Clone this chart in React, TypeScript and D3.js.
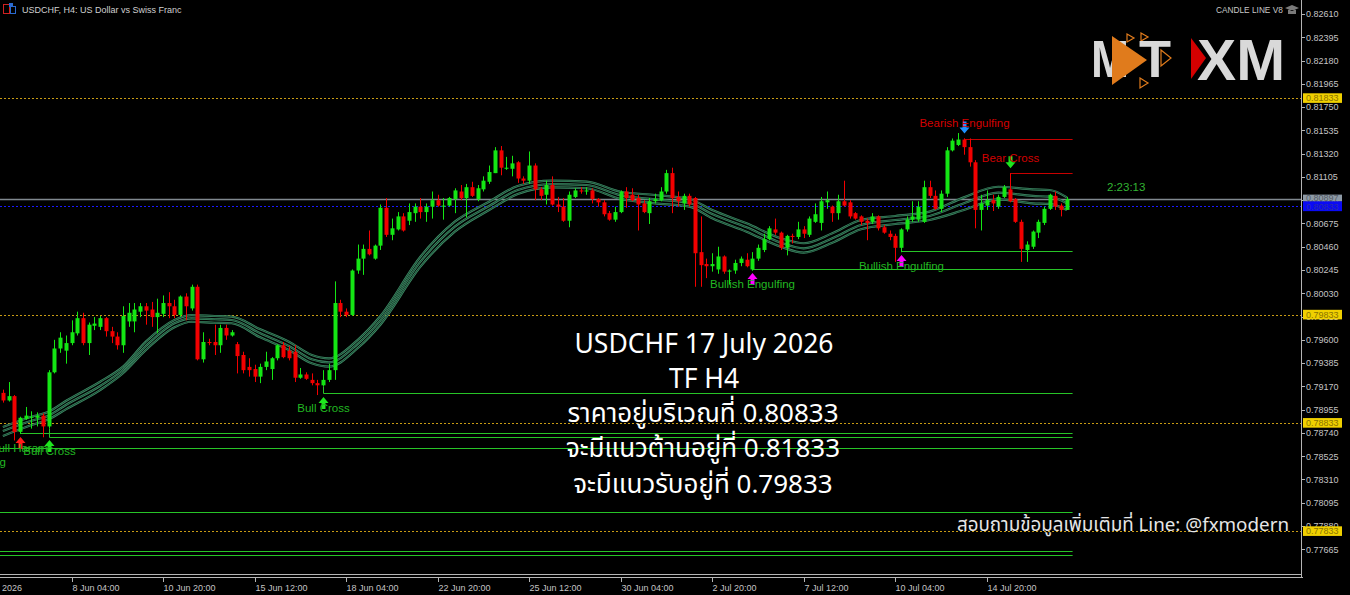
import * as d3 from 'd3';

// H4 bars [open, high, low, close], first one is 4 Jun 2026 04:00 (bar index -12, 8 Jun 04:00 = 0)
const firstBar = -12;
const bars: number[][] = [
  [0.7911, 0.7914, 0.7902, 0.7904], [0.7904, 0.7921, 0.7903, 0.7908], [0.7908, 0.7909, 0.7867, 0.7875],
  [0.7875, 0.7889, 0.7873, 0.7888], [0.7887, 0.7898, 0.7886, 0.7890], [0.7889, 0.7894, 0.7878, 0.7889],
  [0.7888, 0.7893, 0.7880, 0.7890], [0.7890, 0.7892, 0.7870, 0.7880], [0.7880, 0.7932, 0.7878, 0.7930],
  [0.7930, 0.7960, 0.7929, 0.7952], [0.7952, 0.7967, 0.7948, 0.7962], [0.7950, 0.7964, 0.7938, 0.7957],
  // 8 Jun
  [0.7957, 0.7978, 0.7955, 0.7967], [0.7966, 0.7986, 0.7964, 0.7980], [0.7980, 0.7985, 0.7955, 0.7957],
  [0.7957, 0.7976, 0.7946, 0.7974], [0.7973, 0.7981, 0.7969, 0.7975], [0.7972, 0.7982, 0.7969, 0.7980],
  [0.7980, 0.7981, 0.7963, 0.7968], [0.7968, 0.7972, 0.7957, 0.7963], [0.7963, 0.7967, 0.7951, 0.7955],
  [0.7955, 0.7991, 0.7948, 0.7982], [0.7977, 0.7994, 0.7972, 0.7985], [0.7977, 0.7994, 0.7967, 0.7988],
  [0.7986, 0.7994, 0.7981, 0.7991], [0.7991, 0.7994, 0.7974, 0.7987], [0.7988, 0.7995, 0.7972, 0.7981],
  [0.7981, 0.7998, 0.7966, 0.7985], [0.7984, 0.8001, 0.7981, 0.7994], [0.7994, 0.8004, 0.7980, 0.7991],
  [0.7991, 0.7997, 0.7980, 0.7983], [0.7983, 0.8001, 0.7981, 0.8000], [0.8000, 0.8003, 0.7978, 0.7991],
  [0.7989, 0.8011, 0.7987, 0.8009], [0.8009, 0.8011, 0.7941, 0.7942], [0.7942, 0.7967, 0.7939, 0.7958],
  [0.7958, 0.7961, 0.7955, 0.7957], [0.7958, 0.7974, 0.7946, 0.7955], [0.7955, 0.7974, 0.7948, 0.7971],
  [0.7971, 0.7974, 0.7960, 0.7964], [0.7964, 0.7969, 0.7963, 0.7967],
  // 15 Jun
  [0.7956, 0.7958, 0.7929, 0.7945], [0.7946, 0.7949, 0.7929, 0.7932], [0.7935, 0.7943, 0.7926, 0.7932],
  [0.7933, 0.7937, 0.7921, 0.7926], [0.7926, 0.7938, 0.7920, 0.7935], [0.7935, 0.7949, 0.7932, 0.7940],
  [0.7933, 0.7944, 0.7923, 0.7943], [0.7943, 0.7956, 0.7941, 0.7955], [0.7955, 0.7958, 0.7943, 0.7944],
  [0.7950, 0.7954, 0.7941, 0.7943], [0.7949, 0.7955, 0.7921, 0.7925], [0.7925, 0.7934, 0.7924, 0.7928],
  [0.7928, 0.7930, 0.7923, 0.7924], [0.7923, 0.7929, 0.7918, 0.7920], [0.7920, 0.7923, 0.7909, 0.7918],
  [0.7918, 0.7932, 0.7917, 0.7923], [0.7923, 0.7938, 0.7921, 0.7932], [0.7932, 0.8014, 0.7923, 0.7994],
  [0.7994, 0.7997, 0.7981, 0.7986], [0.7986, 0.7989, 0.7981, 0.7983], [0.7983, 0.8025, 0.7982, 0.8024],
  [0.8024, 0.8048, 0.8021, 0.8035], [0.8035, 0.8048, 0.8020, 0.8044], [0.8044, 0.8061, 0.8038, 0.8039],
  [0.8035, 0.8048, 0.8034, 0.8047], [0.8047, 0.8085, 0.8043, 0.8082], [0.8082, 0.8091, 0.8055, 0.8057],
  [0.8057, 0.8072, 0.8052, 0.8063], [0.8062, 0.8078, 0.8061, 0.8074], [0.8074, 0.8077, 0.8060, 0.8061],
  // 22 Jun
  [0.8070, 0.8086, 0.8066, 0.8078], [0.8077, 0.8086, 0.8069, 0.8083], [0.8083, 0.8091, 0.8072, 0.8078],
  [0.8078, 0.8086, 0.8069, 0.8083], [0.8083, 0.8097, 0.8072, 0.8089], [0.8089, 0.8094, 0.8083, 0.8084],
  [0.8083, 0.8091, 0.8071, 0.8084], [0.8084, 0.8092, 0.8083, 0.8091], [0.8090, 0.8100, 0.8077, 0.8098],
  [0.8097, 0.8103, 0.8089, 0.8091], [0.8091, 0.8104, 0.8073, 0.8101], [0.8101, 0.8106, 0.8092, 0.8093],
  [0.8090, 0.8103, 0.8088, 0.8100], [0.8099, 0.8111, 0.8097, 0.8107], [0.8106, 0.8121, 0.8104, 0.8115],
  [0.8114, 0.8138, 0.8114, 0.8135], [0.8135, 0.8139, 0.8112, 0.8119], [0.8118, 0.8129, 0.8117, 0.8119],
  [0.8118, 0.8130, 0.8111, 0.8123], [0.8124, 0.8125, 0.8105, 0.8109], [0.8109, 0.8111, 0.8104, 0.8107],
  [0.8107, 0.8134, 0.8104, 0.8121], [0.8121, 0.8123, 0.8089, 0.8099], [0.8099, 0.8101, 0.8089, 0.8093],
  [0.8094, 0.8107, 0.8085, 0.8103], [0.8103, 0.8111, 0.8084, 0.8085], [0.8085, 0.8092, 0.8078, 0.8083],
  [0.8083, 0.8091, 0.8069, 0.8070], [0.8070, 0.8097, 0.8064, 0.8094], [0.8092, 0.8100, 0.8091, 0.8098],
  // 29 Jun
  [0.8098, 0.8101, 0.8095, 0.8097], [0.8097, 0.8101, 0.8094, 0.8098], [0.8098, 0.8100, 0.8086, 0.8090],
  [0.8090, 0.8091, 0.8083, 0.8087], [0.8087, 0.8089, 0.8074, 0.8076], [0.8077, 0.8079, 0.8070, 0.8071],
  [0.8071, 0.8083, 0.8069, 0.8078], [0.8078, 0.8098, 0.8077, 0.8097], [0.8097, 0.8101, 0.8082, 0.8091],
  [0.8094, 0.8100, 0.8088, 0.8089], [0.8091, 0.8094, 0.8061, 0.8085], [0.8086, 0.8089, 0.8077, 0.8078],
  [0.8077, 0.8091, 0.8067, 0.8088], [0.8088, 0.8095, 0.8086, 0.8090], [0.8089, 0.8101, 0.8088, 0.8097],
  [0.8097, 0.8117, 0.8095, 0.8114], [0.8114, 0.8119, 0.8077, 0.8091], [0.8092, 0.8097, 0.8083, 0.8088],
  [0.8086, 0.8095, 0.8080, 0.8093], [0.8093, 0.8095, 0.8083, 0.8085], [0.8091, 0.8092, 0.8009, 0.8040],
  [0.8041, 0.8074, 0.8009, 0.8029], [0.8030, 0.8035, 0.8017, 0.8028], [0.8028, 0.8040, 0.8023, 0.8030],
  [0.8025, 0.8046, 0.8021, 0.8037], [0.8037, 0.8038, 0.8021, 0.8023], [0.8023, 0.8025, 0.8011, 0.8024],
  [0.8024, 0.8034, 0.8021, 0.8031], [0.8031, 0.8037, 0.8028, 0.8035], [0.8034, 0.8040, 0.8027, 0.8028],
  // 6 Jul
  [0.8025, 0.8041, 0.8024, 0.8035], [0.8035, 0.8048, 0.8033, 0.8045], [0.8043, 0.8058, 0.8041, 0.8053],
  [0.8053, 0.8065, 0.8052, 0.8063], [0.8062, 0.8072, 0.8057, 0.8059], [0.8059, 0.8060, 0.8043, 0.8045],
  [0.8045, 0.8057, 0.8038, 0.8056], [0.8056, 0.8058, 0.8049, 0.8055], [0.8055, 0.8069, 0.8053, 0.8062],
  [0.8062, 0.8065, 0.8054, 0.8058], [0.8057, 0.8074, 0.8055, 0.8072], [0.8069, 0.8086, 0.8068, 0.8076],
  [0.8068, 0.8092, 0.8061, 0.8088], [0.8087, 0.8097, 0.8081, 0.8089], [0.8083, 0.8084, 0.8069, 0.8077],
  [0.8077, 0.8094, 0.8071, 0.8088], [0.8088, 0.8107, 0.8083, 0.8084], [0.8087, 0.8089, 0.8072, 0.8074],
  [0.8077, 0.8078, 0.8071, 0.8072], [0.8074, 0.8075, 0.8066, 0.8069], [0.8070, 0.8072, 0.8052, 0.8068],
  [0.8069, 0.8077, 0.8067, 0.8074], [0.8074, 0.8075, 0.8061, 0.8063], [0.8064, 0.8066, 0.8058, 0.8059],
  [0.8058, 0.8061, 0.8052, 0.8055], [0.8056, 0.8058, 0.8032, 0.8045], [0.8045, 0.8063, 0.8041, 0.8062],
  [0.8062, 0.8074, 0.8060, 0.8071], [0.8071, 0.8088, 0.8069, 0.8074], [0.8071, 0.8088, 0.8069, 0.8083],
  // 13 Jul
  [0.8069, 0.8107, 0.8068, 0.8101], [0.8101, 0.8107, 0.8091, 0.8093], [0.8093, 0.8098, 0.8080, 0.8081],
  [0.8081, 0.8098, 0.8078, 0.8095], [0.8095, 0.8138, 0.8092, 0.8135], [0.8135, 0.8146, 0.8134, 0.8144],
  [0.8140, 0.8151, 0.8139, 0.8145], [0.8145, 0.8146, 0.8131, 0.8138], [0.8138, 0.8146, 0.8120, 0.8124],
  [0.8124, 0.8126, 0.8063, 0.8080], [0.8080, 0.8094, 0.8061, 0.8086], [0.8084, 0.8098, 0.8080, 0.8089],
  [0.8089, 0.8094, 0.8079, 0.8086], [0.8083, 0.8094, 0.8081, 0.8092], [0.8092, 0.8103, 0.8091, 0.8101],
  [0.8099, 0.8114, 0.8087, 0.8088], [0.8090, 0.8091, 0.8068, 0.8069], [0.8069, 0.8071, 0.8032, 0.8044],
  [0.8043, 0.8051, 0.8032, 0.8048], [0.8046, 0.8061, 0.8044, 0.8060], [0.8059, 0.8071, 0.8054, 0.8069],
  [0.8068, 0.8083, 0.8066, 0.8081], [0.8081, 0.8095, 0.8080, 0.8094], [0.8093, 0.8097, 0.8080, 0.8083],
  [0.8084, 0.8086, 0.8074, 0.8080], [0.8080, 0.8092, 0.8080, 0.8090],
];

// candle line ribbon (upper / middle / lower), read at these bars
const maBars = [-12, -7, -4, -1, 5, 9, 13, 18, 21, 25, 28, 33, 38, 42, 45, 50, 54, 61, 67, 73, 78, 84, 90, 96, 102, 108, 112, 118, 124, 128, 133, 138, 144, 150, 156, 162, 168, 171, 174];
const maUpper = [0.78795, 0.78890, 0.78936, 0.79035, 0.79213, 0.79352, 0.79583, 0.79783, 0.79829, 0.79820, 0.79814, 0.79697, 0.79583, 0.79460, 0.79429, 0.79598, 0.79820, 0.80368, 0.80691, 0.80876, 0.81021, 0.81070, 0.81061, 0.80968, 0.80938, 0.80901, 0.80799, 0.80676, 0.80538, 0.80492, 0.80584, 0.80707, 0.80744, 0.80784, 0.80916, 0.81014, 0.80990, 0.80984, 0.80916];
const maMiddle = [0.78758, 0.78853, 0.78899, 0.78998, 0.79174, 0.79321, 0.79543, 0.79753, 0.79799, 0.79790, 0.79783, 0.79660, 0.79543, 0.79420, 0.79392, 0.79561, 0.79780, 0.80322, 0.80645, 0.80836, 0.80984, 0.81039, 0.81030, 0.80935, 0.80898, 0.80864, 0.80762, 0.80639, 0.80497, 0.80445, 0.80538, 0.80661, 0.80707, 0.80744, 0.80861, 0.80959, 0.80929, 0.80922, 0.80861];
const maLower = [0.78712, 0.78813, 0.78866, 0.78958, 0.79136, 0.79291, 0.79506, 0.79716, 0.79767, 0.79758, 0.79753, 0.79623, 0.79506, 0.79383, 0.79352, 0.79522, 0.79740, 0.80276, 0.80599, 0.80799, 0.80947, 0.81009, 0.81000, 0.80901, 0.80861, 0.80831, 0.80723, 0.80599, 0.80460, 0.80405, 0.80497, 0.80621, 0.80670, 0.80707, 0.80799, 0.80898, 0.80861, 0.80855, 0.80799];

const timeTickBars = [0, 16, 32, 48, 64, 80, 96, 112, 128, 144, 160];
const timeTickLabels = ['8 Jun 04:00', '10 Jun 20:00', '15 Jun 12:00', '18 Jun 04:00', '22 Jun 20:00', '25 Jun 12:00', '30 Jun 04:00', '2 Jul 20:00', '7 Jul 12:00', '10 Jul 04:00', '14 Jul 20:00'];
const firstDateLabel = '4 Jun 2026';

const priceTicks = [0.82610, 0.82395, 0.82180, 0.81965, 0.81750, 0.81535, 0.81320, 0.81105, 0.80890, 0.80675, 0.80460, 0.80245, 0.80030, 0.79815, 0.79600, 0.79385, 0.79170, 0.78955, 0.78740, 0.78525, 0.78310, 0.78095, 0.77880, 0.77665];

const goldLevels = [0.81833, 0.79833, 0.78833, 0.77833];
const currentPrice = 0.80833;
const resistance = 0.81833;
const support = 0.79833;
const bidPrice = 0.80897;

// signal lines from the indicator: start bar, price, kind
const levelStart = [-12, -12, -12, -12, -9, -4, 44, 119, 145, 156, 164];
const levelPrice = [0.77613, 0.77650, 0.78012, 0.78603, 0.78737, 0.78705, 0.79112, 0.80254, 0.80418, 0.81452, 0.81138];
const levelKind = ['bull', 'bull', 'bull', 'bull', 'bull', 'bull', 'bull', 'bull', 'bull', 'bear', 'bear'];

// arrows: bar, tip price, direction, colour, label
const signalBars = [-9, -4, 44, 119, 145, 156, 164];
const signalTip = [0.78702, 0.78675, 0.79071, 0.80217, 0.80384, 0.81507, 0.81184];
const signalDir = ['up', 'up', 'up', 'up', 'up', 'down', 'down'];
const signalColor = ['#ff1a1a', '#1ee61e', '#1ee61e', '#ff00ff', '#ff00ff', '#1e90ff', '#1ee61e'];
const signalLabel = ['Bull Harami', 'Bull Cross', 'Bull Cross', 'Bullish Engulfing', 'Bullish Engulfing', 'Bearish Engulfing', 'Bear Cross'];

const countdown = '2:23:13';

const PLOT_W = 1302;
const PLOT_H = 574;
const BULL = '#14e614';
const BEAR = '#f20000';
const axisFont = 'Liberation Sans, Arial, sans-serif';

function arrowPath(cx: number, tip: number, dir: string) {
  const s = dir === 'up' ? 1 : -1;
  return `M${cx},${tip} L${cx + 5},${tip + 6 * s} L${cx + 2},${tip + 6 * s} L${cx + 2},${tip + 12 * s} L${cx - 2},${tip + 12 * s} L${cx - 2},${tip + 6 * s} L${cx - 5},${tip + 6 * s} Z`;
}

export default function App() {
  const x = d3.scaleLinear().domain([-12.5, 215.1]).range([0, PLOT_W]);
  const y = d3.scaleLinear().domain([0.77437, 0.82739]).range([PLOT_H, 0]);

  const line = (vals: number[]) =>
    d3.line<number>()
      .x((_, k) => x(maBars[k]))
      .y(d => y(d))
      .curve(d3.curveMonotoneX)(vals) || '';

  const endX = x(175);

  return (
    <div style={{ position: 'fixed', left: 0, top: 0, width: 1350, height: 595, background: '#000' }}>
      <svg width={1350} height={595} style={{ display: 'block' }}>
        <rect width={1350} height={595} fill="#000" />
        <defs>
          <clipPath id="plot"><rect x={0} y={0} width={PLOT_W} height={PLOT_H} /></clipPath>
        </defs>

        <g clipPath="url(#plot)">
          {/* dotted key levels */}
          {goldLevels.map(p => (
            <line key={p} x1={0} x2={PLOT_W} y1={Math.round(y(p)) + 0.5} y2={Math.round(y(p)) + 0.5}
              stroke="#c89b14" strokeDasharray="2,2" />
          ))}
          <line x1={0} x2={PLOT_W} y1={Math.round(y(bidPrice)) + 0.5} y2={Math.round(y(bidPrice)) + 0.5} stroke="#80888f" strokeWidth={1.6} />
          <line x1={0} x2={PLOT_W} y1={Math.round(y(currentPrice)) + 0.5} y2={Math.round(y(currentPrice)) + 0.5}
            stroke="#1a1aff" strokeDasharray="2,2" />

          {/* indicator level lines */}
          {levelStart.map((b, k) => {
            const col = levelKind[k] === 'bull' ? '#27c427' : '#c80000';
            const ly = Math.round(y(levelPrice[k])) + 0.5;
            const sx = b <= -12 ? 0 : Math.round(x(b)) + 0.5;
            const bar = bars[b - firstBar];
            const anchor = b <= -12 ? ly : y(levelKind[k] === 'bull' ? bar[2] : bar[1]);
            return (
              <g key={k}>
                <line x1={sx} x2={endX} y1={ly} y2={ly} stroke={col} />
                {b > -12 && <line x1={sx} x2={sx} y1={anchor} y2={ly} stroke={col} />}
              </g>
            );
          })}

          {/* ribbon: each line drawn with light edges and a dark core */}
          {[maUpper, maMiddle, maLower].map((vals, k) => (
            <g key={k}>
              <path d={line(vals)} fill="none" stroke="#3f8f68" strokeWidth={2.2} />
              <path d={line(vals)} fill="none" stroke="#0f2e20" strokeWidth={0.7} />
            </g>
          ))}

          {/* candles */}
          {bars.map((b, k) => {
            const [o, h, l, c] = b;
            const cx = Math.round(x(firstBar + k));
            const col = c >= o ? BULL : BEAR;
            const top = y(Math.max(o, c));
            const bot = y(Math.min(o, c));
            return (
              <g key={k}>
                <line x1={cx + 0.5} x2={cx + 0.5} y1={y(h)} y2={y(l)} stroke={col} />
                <rect x={cx - 1.5} y={top} width={4} height={Math.max(1, bot - top)} fill={col} />
              </g>
            );
          })}

          {/* signal arrows and labels */}
          {signalBars.map((b, k) => {
            const cx = Math.round(x(b)) + 0.5;
            const tip = y(signalTip[k]);
            const up = signalDir[k] === 'up';
            const labelCol = up ? '#22b822' : '#d40000';
            const ly = up ? tip + 15 : tip - 6;
            return (
              <g key={k}>
                <path d={arrowPath(cx, tip, signalDir[k])} fill={signalColor[k]} />
                <text x={cx} y={ly} textAnchor="middle" fill={labelCol} fontFamily={axisFont} fontSize={11.5}>{signalLabel[k]}</text>
              </g>
            );
          })}
          <text x={6} y={466} textAnchor="end" fill="#22b822" fontFamily={axisFont} fontSize={11.5}>Bullish Engulfing</text>

          <text x={1107} y={191} fill="#33b533" fontFamily={axisFont} fontSize={11.5}>{countdown}</text>
        </g>

        {/* frame */}
        <line x1={0} x2={PLOT_W} y1={574.5} y2={574.5} stroke="#b4b4b4" />
        <line x1={0} x2={PLOT_W + 1} y1={577.5} y2={577.5} stroke="#b4b4b4" />
        <line x1={PLOT_W - 0.5} x2={PLOT_W - 0.5} y1={0} y2={578} stroke="#b4b4b4" />

        {/* price axis */}
        {priceTicks.map(p => (
          <g key={p}>
            <line x1={PLOT_W} x2={PLOT_W + 3} y1={Math.round(y(p)) + 0.5} y2={Math.round(y(p)) + 0.5} stroke="#b4b4b4" />
            <text x={PLOT_W + 4} y={y(p) + 3.3} fill="#c4c4c4" fontFamily={axisFont} fontSize={9}>{p.toFixed(5)}</text>
          </g>
        ))}
        {goldLevels.map(p => (
          <g key={p}>
            <rect x={PLOT_W + 1} y={y(p) - 4.8} width={39} height={9.6} fill="#f0d000" />
            <text x={PLOT_W + 4} y={y(p) + 3.3} fill="#8a7400" fontFamily={axisFont} fontSize={9}>{p.toFixed(5)}</text>
          </g>
        ))}
        <rect x={PLOT_W + 1} y={y(bidPrice) - 4.8} width={39} height={7} fill="#8e9aa6" />
        <text x={PLOT_W + 4} y={y(bidPrice) + 2} fill="#555d66" fontFamily={axisFont} fontSize={9}>{bidPrice.toFixed(5)}</text>
        <rect x={PLOT_W + 1} y={y(currentPrice) - 5} width={39} height={9.8} fill="#0a0af5" />
        <text x={PLOT_W + 4} y={y(currentPrice) + 3.3} fill="#2a2aa8" fontFamily={axisFont} fontSize={9}>{currentPrice.toFixed(5)}</text>

        {/* time axis */}
        <text x={22} y={591} textAnchor="end" fill="#c4c4c4" fontFamily={axisFont} fontSize={9}>{firstDateLabel}</text>
        {timeTickBars.map((b, k) => {
          const tx = Math.round(x(b)) + 0.5;
          return (
            <g key={b}>
              <line x1={tx} x2={tx} y1={578} y2={582} stroke="#b4b4b4" />
              <text x={tx} y={591} fill="#c4c4c4" fontFamily={axisFont} fontSize={9}>{timeTickLabels[k]}</text>
            </g>
          );
        })}

        {/* header */}
        <rect x={3.5} y={4.5} width={6} height={9} fill="none" stroke="#d02020" />
        <rect x={10.5} y={6.5} width={5} height={7} fill="none" stroke="#2a6ad0" />
        <rect x={9} y={3} width={4} height={4} fill="#2a6ad0" />
        <text x={22} y={13} fill="#d0d0d0" fontFamily={axisFont} fontSize={9}>USDCHF, H4:  US Dollar vs Swiss Franc</text>
        <text x={1216} y={13} fill="#c8c8c8" fontFamily={axisFont} fontSize={8.3}>CANDLE LINE V8</text>
        <path d="M1285,8 L1292,5 L1299,8 L1292,11 Z M1288,10 L1288,14 L1296,14 L1296,10" fill="#7a7a7a" />

        {/* logos */}
        <text x={1091} y={77} fill="#d9d9d9" fontFamily="Liberation Sans, Arial, sans-serif" fontWeight="bold" fontSize={51}
          textLength={38} lengthAdjust="spacingAndGlyphs">M</text>
        <path d="M1112,36 L1147,60 L1112,85 Z" fill="#e07b1c" />
        <path d="M1127,34 L1134,38 L1127,42 Z M1141,33 L1148,37 L1141,41 Z M1161,50 L1171,58 L1161,66 Z M1140,78 L1148,83 L1140,88 Z"
          fill="none" stroke="#e07b1c" strokeWidth={1.2} />
        <text x={1139} y={77} fill="#d9d9d9" fontFamily="Liberation Sans, Arial, sans-serif" fontWeight="bold" fontSize={51}
          textLength={32} lengthAdjust="spacingAndGlyphs">T</text>
        <path d="M1191,38 L1206,58 L1191,79 Z" fill="#d40000" />
        <text x={1197} y={80} fill="#d9d9d9" fontFamily="Liberation Sans, Arial, sans-serif" fontWeight="bold" fontSize={58}
          textLength={88} lengthAdjust="spacingAndGlyphs">XM</text>

        {/* overlay text */}
        <g fontFamily="Noto Sans, Noto Sans Thai, Loma, Garuda, sans-serif" fill="#ffffff" textAnchor="middle">
          <text x={704} y={353} fontSize={26.5}>USDCHF 17 July 2026</text>
          <text x={704} y={388} fontSize={26.5}>TF H4</text>
          <text x={703} y={422} fontSize={26}>{`ราคาอยู่บริเวณที่ ${currentPrice.toFixed(5)}`}</text>
          <text x={703} y={457} fontSize={26}>{`จะมีแนวต้านอยู่ที่ ${resistance.toFixed(5)}`}</text>
          <text x={703} y={493} fontSize={26}>{`จะมีแนวรับอยู่ที่ ${support.toFixed(5)}`}</text>
        </g>
        <text x={1289} y={531} textAnchor="end" fill="#e6e6e6" fontFamily="Noto Sans, Noto Sans Thai, sans-serif" fontSize={18.8}>
          สอบถามข้อมูลเพิ่มเติมที่ Line: @fxmodern
        </text>
      </svg>
    </div>
  );
}
